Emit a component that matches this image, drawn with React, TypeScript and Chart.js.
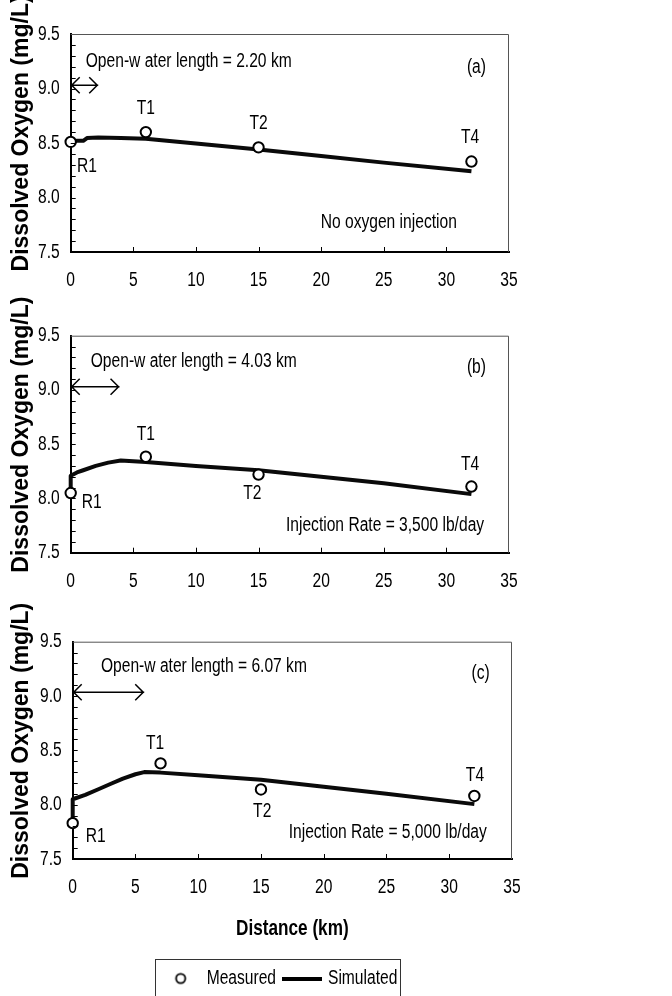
import React, { useEffect, useRef } from "react";
import { Chart, registerables } from "chart.js";

Chart.register(...registerables);

// ---------------- DATA ----------------
const stationNames = ["R1", "T1", "T2", "T4"];

const measuredXA = [0, 6, 15, 32];
const measuredYA = [8.51, 8.6, 8.46, 8.33];
const measuredXB = [0, 6, 15, 32];
const measuredYB = [8.05, 8.385, 8.22, 8.11];
const measuredXC = [0, 7, 15, 32];
const measuredYC = [7.83, 8.38, 8.14, 8.08];

const simulatedXA = [0, 0.5, 1.0, 1.3, 2.2, 4, 6, 10, 15, 20, 25, 32];
const simulatedYA = [8.51, 8.52, 8.52, 8.545, 8.55, 8.545, 8.54, 8.495, 8.44, 8.38, 8.32, 8.24];
const simulatedXB = [0, 0, 0.5, 1, 2, 3, 4, 6, 10, 15, 20, 25, 32];
const simulatedYB = [8.05, 8.21, 8.24, 8.26, 8.3, 8.33, 8.35, 8.335, 8.3, 8.26, 8.2, 8.14, 8.04];
const simulatedXC = [0, 0, 1, 2, 3, 4, 5, 5.7, 7, 10, 15, 20, 25, 32];
const simulatedYC = [7.83, 8.05, 8.09, 8.14, 8.19, 8.24, 8.28, 8.3, 8.295, 8.27, 8.23, 8.165, 8.1, 8.005];

const openWaterLabels = [
  "Open-w ater length = 2.20 km",
  "Open-w ater length = 4.03 km",
  "Open-w ater length = 6.07 km",
];
const openWaterArrowKm = [2.2, 3.9, 5.7];
const panelTags = ["(a)", "(b)", "(c)"];
const conditionLabels = [
  "No oxygen injection",
  "Injection Rate = 3,500 lb/day",
  "Injection Rate = 5,000 lb/day",
];

const distanceRange = [0, 35];
const doRange = [7.5, 9.5];
const seriesNames = ["Measured", "Simulated"];
const xAxisTitle = "Distance (km)";
const yAxisTitle = "Dissolved Oxygen (mg/L)";

// ---------------- LABEL ANCHORS (data coordinates) ----------------
const stationLabelAnchors = [
  [[1.3, 8.28], [6.0, 8.82], [15.0, 8.68], [31.9, 8.55]],
  [[1.67, 7.96], [6.0, 8.59], [14.5, 8.05], [31.9, 8.31]],
  [[1.83, 7.71], [6.56, 8.56], [15.1, 7.94], [32.05, 8.27]],
];
const openWaterAnchors = [[1.2, 9.25], [1.6, 9.26], [2.25, 9.27]];
const tagAnchors = [[32.4, 9.19], [32.4, 9.21], [32.5, 9.21]];
const conditionAnchors = [[25.4, 7.77], [25.1, 7.755], [25.1, 7.74]];
const arrowLevel = [9.03, 9.03, 9.035];

// ---------------- STYLE ----------------
const SANS = "'Liberation Sans', Arial, Helvetica, sans-serif";
const CONDENSE = 0.78; // horizontal text compression (narrow face)
const TXT = 20;

const panelsLayout = [
  { top: 0, height: 300, padTop: 34, padRight: 163, padBottom: 0, yWidth: 70.7, xHeight: 48 },
  { top: 270, height: 340, padTop: 65.7, padRight: 163, padBottom: 0, yWidth: 70.7, xHeight: 57.3 },
  { top: 575, height: 435, padTop: 66.7, padRight: 160, padBottom: 11.5, yWidth: 72.7, xHeight: 99.5 },
];

// make horizontal text narrow (like Arial Narrow); rotated text is left untouched
function condenseContext(ctx: any, f: number) {
  const origFill = ctx.fillText.bind(ctx);
  const origMeasure = ctx.measureText.bind(ctx);
  ctx.fillText = (text: string, x: number, y: number, maxWidth?: number) => {
    const t = ctx.getTransform();
    if (Math.abs(t.b) > 1e-6 || Math.abs(t.c) > 1e-6) {
      if (maxWidth === undefined) origFill(text, x, y);
      else origFill(text, x, y, maxWidth);
      return;
    }
    const w = origMeasure(text).width * f;
    const mw = maxWidth === undefined ? w : Math.min(maxWidth, w);
    if (mw <= 0) return;
    origFill(text, x, y, mw);
  };
  ctx.measureText = (text: string) => {
    const m = origMeasure(text);
    return {
      width: m.width * f,
      actualBoundingBoxLeft: m.actualBoundingBoxLeft * f,
      actualBoundingBoxRight: m.actualBoundingBoxRight * f,
      actualBoundingBoxAscent: m.actualBoundingBoxAscent,
      actualBoundingBoxDescent: m.actualBoundingBoxDescent,
      fontBoundingBoxAscent: m.fontBoundingBoxAscent,
      fontBoundingBoxDescent: m.fontBoundingBoxDescent,
    };
  };
}

const decorPlugin = {
  id: "panelDecor",
  afterLayout(chart: any, _args: any, opts: any) {
    if (opts && opts.legendArea && chart.legend) {
      chart.legend.left = opts.legendArea.left;
      chart.legend.right = opts.legendArea.right;
      chart.legend.width = opts.legendArea.right - opts.legendArea.left;
    }
  },
  afterDraw(chart: any, _args: any, opts: any) {
    const { ctx, chartArea } = chart;
    const xs = chart.scales.x;
    const ys = chart.scales.y;
    const { left, right, top, bottom } = chartArea;
    ctx.save();
    // frame top & right
    ctx.strokeStyle = "#555";
    ctx.lineWidth = 1;
    ctx.beginPath();
    ctx.moveTo(left, top + 0.5);
    ctx.lineTo(right - 0.5, top + 0.5);
    ctx.lineTo(right - 0.5, bottom);
    ctx.stroke();
    // inward ticks
    ctx.strokeStyle = "#000";
    ctx.lineWidth = 1;
    ctx.beginPath();
    for (let k = 1; k < 20; k++) {
      const v = doRange[0] + k * 0.1;
      const py = Math.round(ys.getPixelForValue(v)) + 0.5;
      ctx.moveTo(left, py);
      ctx.lineTo(left + 5, py);
    }
    for (let d = 5; d < distanceRange[1]; d += 5) {
      const px = Math.round(xs.getPixelForValue(d)) + 0.5;
      ctx.moveTo(px, bottom);
      ctx.lineTo(px, bottom - 5);
    }
    ctx.stroke();

    // open-water arrow
    const ay = ys.getPixelForValue(opts.arrowY);
    const ax0 = xs.getPixelForValue(0);
    const ax1 = xs.getPixelForValue(opts.arrowTo);
    ctx.lineWidth = 1.5;
    ctx.beginPath();
    ctx.moveTo(ax0, ay);
    ctx.lineTo(ax1, ay);
    ctx.moveTo(ax0 + 9, ay - 8);
    ctx.lineTo(ax0 + 1, ay);
    ctx.lineTo(ax0 + 9, ay + 8);
    ctx.moveTo(ax1 - 9, ay - 8);
    ctx.lineTo(ax1 - 1, ay);
    ctx.lineTo(ax1 - 9, ay + 8);
    ctx.stroke();

    // annotation texts
    ctx.fillStyle = "#000";
    ctx.font = `${TXT}px ${SANS}`;
    ctx.textBaseline = "middle";
    for (const t of opts.texts) {
      ctx.textAlign = t.align || "center";
      ctx.fillText(t.text, xs.getPixelForValue(t.x), ys.getPixelForValue(t.y));
    }

    // legend frame
    if (opts.legendFrame && chart.legend) {
      const lg = chart.legend;
      ctx.strokeStyle = "#333";
      ctx.lineWidth = 1;
      ctx.strokeRect(opts.legendFrame.left + 0.5, Math.round(lg.top) + 0.5, opts.legendFrame.right - opts.legendFrame.left, chart.height);
    }
    ctx.restore();
  },
};

function makeImages() {
  const circle = document.createElement("canvas");
  circle.width = 14;
  circle.height = 14;
  const c = circle.getContext("2d")!;
  c.fillStyle = "#fff";
  c.strokeStyle = "#000";
  c.lineWidth = 1.8;
  c.beginPath();
  c.arc(7, 7, 4.6, 0, Math.PI * 2);
  c.fill();
  c.stroke();
  const line = document.createElement("canvas");
  line.width = 40;
  line.height = 4;
  const l = line.getContext("2d")!;
  l.fillStyle = "#000";
  l.fillRect(0, 0, 40, 4);
  return { circle, line };
}

function buildConfig(idx: number, images: any) {
  const mx = [measuredXA, measuredXB, measuredXC][idx];
  const my = [measuredYA, measuredYB, measuredYC][idx];
  const sx = [simulatedXA, simulatedXB, simulatedXC][idx];
  const sy = [simulatedYA, simulatedYB, simulatedYC][idx];
  const L = panelsLayout[idx];
  const isLast = idx === 2;

  const texts: any[] = [];
  stationNames.forEach((n, i) => {
    texts.push({ text: n, x: stationLabelAnchors[idx][i][0], y: stationLabelAnchors[idx][i][1] });
  });
  texts.push({ text: openWaterLabels[idx], x: openWaterAnchors[idx][0], y: openWaterAnchors[idx][1], align: "left" });
  texts.push({ text: panelTags[idx], x: tagAnchors[idx][0], y: tagAnchors[idx][1] });
  texts.push({ text: conditionLabels[idx], x: conditionAnchors[idx][0], y: conditionAnchors[idx][1] });

  return {
    type: "scatter",
    data: {
      datasets: [
        {
          label: seriesNames[0],
          data: mx.map((x, i) => ({ x, y: my[i] })),
          showLine: false,
          pointStyle: "circle",
          pointRadius: 5.2,
          pointBorderWidth: 2,
          pointBackgroundColor: "#fff",
          pointBorderColor: "#000",
          backgroundColor: "#fff",
          borderColor: "#000",
          clip: false,
          order: 0,
        },
        {
          label: seriesNames[1],
          data: sx.map((x, i) => ({ x, y: sy[i] })),
          showLine: true,
          borderColor: "#0a0a0a",
          backgroundColor: "#0a0a0a",
          borderWidth: 4,
          borderJoinStyle: "round",
          pointRadius: 0,
          tension: 0,
          clip: false,
          order: 1,
        },
      ],
    },
    options: {
      responsive: false,
      animation: false,
      devicePixelRatio: 1,
      events: [],
      layout: { padding: { top: L.padTop, right: L.padRight, bottom: L.padBottom, left: 0 } },
      scales: {
        x: {
          type: "linear",
          min: distanceRange[0],
          max: distanceRange[1],
          afterFit: (s: any) => {
            s.height = L.xHeight;
          },
          ticks: {
            stepSize: 5,
            padding: 16.5,
            color: "#000",
            maxRotation: 0,
            autoSkip: false,
            font: { family: SANS, size: TXT },
          },
          grid: { display: false, drawTicks: false },
          border: { display: true, color: "#000", width: 2 },
          title: {
            display: isLast,
            text: xAxisTitle,
            color: "#000",
            font: { family: SANS, size: 22, weight: "bold" },
            padding: { top: 0, bottom: 16 },
          },
        },
        y: {
          type: "linear",
          min: doRange[0],
          max: doRange[1],
          afterFit: (s: any) => {
            s.width = L.yWidth;
          },
          ticks: {
            stepSize: 0.5,
            padding: 11,
            color: "#000",
            font: { family: SANS, size: TXT },
            callback: (v: any) => Number(v).toFixed(1),
          },
          grid: { display: false, drawTicks: false },
          border: { display: true, color: "#000", width: 2 },
          title: {
            display: true,
            text: "   " + yAxisTitle,
            color: "#000",
            font: { family: SANS, size: 23, weight: "bold" },
            padding: { top: 8, bottom: 0 },
          },
        },
      },
      plugins: {
        tooltip: { enabled: false },
        legend: isLast
          ? {
              display: true,
              position: "bottom",
              labels: {
                color: "#000",
                font: { family: SANS, size: TXT },
                usePointStyle: true,
                pointStyleWidth: 32,
                padding: 10,
                generateLabels: (chart: any) => {
                  const items = (Chart as any).defaults.plugins.legend.labels.generateLabels(chart);
                  if (items[0]) items[0].pointStyle = images.circle;
                  if (items[1]) items[1].pointStyle = images.line;
                  return items;
                },
              },
            }
          : { display: false },
        panelDecor: {
          texts,
          arrowTo: openWaterArrowKm[idx],
          arrowY: arrowLevel[idx],
          legendArea: isLast ? { left: 150, right: 412 } : null,
          legendFrame: isLast ? { left: 155, right: 400 } : null,
        },
      },
    },
    plugins: [decorPlugin],
  };
}

function Panel({ idx }: { idx: number }) {
  const ref = useRef<HTMLCanvasElement>(null);
  const L = panelsLayout[idx];
  useEffect(() => {
    const canvas = ref.current as HTMLCanvasElement;
    const ctx = canvas.getContext("2d");
    condenseContext(ctx, CONDENSE);
    const images = makeImages();
    const chart = new Chart(canvas, buildConfig(idx, images) as any);
    return () => chart.destroy();
  }, [idx]);
  return (
    <canvas
      ref={ref}
      width={672}
      height={L.height}
      style={{ position: "absolute", left: 0, top: L.top, width: 672, height: L.height }}
    />
  );
}

export default function App() {
  return (
    <div
      style={{
        position: "fixed",
        left: 0,
        top: 0,
        width: 672,
        height: 996,
        overflow: "hidden",
        background: "#fff",
      }}
    >
      <Panel idx={0} />
      <Panel idx={1} />
      <Panel idx={2} />
    </div>
  );
}
